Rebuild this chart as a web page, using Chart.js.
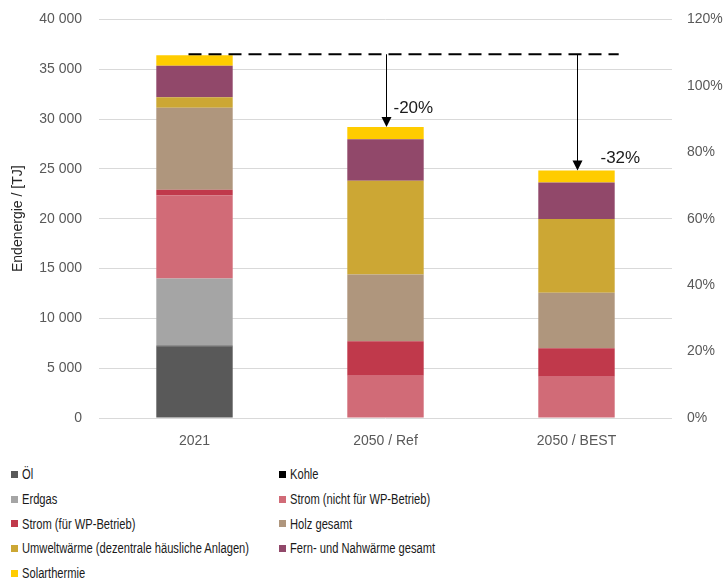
<!DOCTYPE html>
<html>
<head>
<meta charset="utf-8">
<script src="https://cdn.jsdelivr.net/npm/chart.js@4"></script>
<style>
  body { margin: 0; background: #fff; font-family: "Liberation Sans", Arial, sans-serif; overflow: hidden; }
  #wrap { position: relative; width: 728px; height: 583px; overflow: hidden; }
  #chartBox { position: absolute; left: 0; top: -6px; width: 728px; height: 456px; }
  #legend { position: absolute; left: 11px; top: 462px; display: grid;
            grid-template-columns: 268px 300px; row-gap: 0; }
  .item { display: flex; align-items: center; height: 24.7px; white-space: nowrap;
          font-size: 15.5px; color: #1a1a1a; }
  .box { width: 7px; height: 7px; margin-right: 4px; flex: none; }
  .txt { display: inline-block; transform: scaleX(0.72); transform-origin: left center; }
</style>
</head>
<body>
<div id="wrap">
  <div id="chartBox"><canvas id="chart"></canvas></div>
  <div id="legend"></div>
</div>
<script>
// categories
const categories = ['2021', '2050 / Ref', '2050 / BEST'];

// series (TJ), stacked bottom -> top
const oel        = [7200, 0, 0];
const kohle      = [60, 0, 0];
const erdgas     = [6750, 0, 0];
const stromNWP   = [8330, 4230, 4130];
const stromWP    = [560, 3480, 2860];
const holz       = [8230, 6700, 5570];
const umwelt     = [1060, 9390, 7420];
const fernwaerme = [3150, 4180, 3650];
const solar      = [1060, 1220, 1200];

const seriesNames = ['Öl', 'Kohle', 'Erdgas', 'Strom (nicht für WP-Betrieb)', 'Strom (für WP-Betrieb)',
  'Holz gesamt', 'Umweltwärme (dezentrale häusliche Anlagen)', 'Fern- und Nahwärme gesamt', 'Solarthermie'];
const seriesData = [oel, kohle, erdgas, stromNWP, stromWP, holz, umwelt, fernwaerme, solar];
const seriesColors = ['#595959', '#000000', '#a5a5a5', '#d16b77', '#c0394b',
  '#af967d', '#cca734', '#91486a', '#ffcc00'];

// tick labels
const leftTicks = [0, 5000, 10000, 15000, 20000, 25000, 30000, 35000, 40000];
const rightTicks = [0, 0.2, 0.4, 0.6, 0.8, 1.0, 1.2];

const datasets = seriesNames.map((name, i) => ({
  label: name,
  data: seriesData[i],
  backgroundColor: seriesColors[i],
  borderWidth: 0,
  categoryPercentage: 1,
  barPercentage: 0.4
}));

const totals = categories.map((c, j) => seriesData.reduce((s, arr) => s + arr[j], 0));

function fmt(v) {
  return String(v).replace(/\B(?=(\d{3})+(?!\d))/g, ' ');
}

// dashed reference line at 2021 total + arrows to scenario bars
const refPlugin = {
  id: 'refLine',
  afterDatasetsDraw(chart) {
    const ctx = chart.ctx;
    const x = chart.scales.x, y = chart.scales.y;
    const meta = chart.getDatasetMeta(seriesData.length - 1);
    const barW = meta.data[2].width;
    const yRef = y.getPixelForValue(totals[0]) - 1;
    ctx.save();
    ctx.strokeStyle = '#000';
    ctx.lineWidth = 1.8;
    ctx.setLineDash([13, 7]);
    ctx.beginPath();
    ctx.moveTo(x.getPixelForValue(0) - 6, yRef);
    ctx.lineTo(x.getPixelForValue(2) + barW / 2 + 4, yRef);
    ctx.stroke();
    ctx.setLineDash([]);
    const labelDy = [0, 19, 12];
    const labelDx = [0, 7, 23];
    for (let j = 1; j < categories.length; j++) {
      const xc = x.getPixelForValue(j) + 1;
      const yt = y.getPixelForValue(totals[j]);
      ctx.lineWidth = 1;
      ctx.beginPath();
      ctx.moveTo(xc, yRef);
      ctx.lineTo(xc, yt - 9);
      ctx.stroke();
      ctx.fillStyle = '#000';
      ctx.beginPath();
      ctx.moveTo(xc - 5, yt - 10);
      ctx.lineTo(xc + 5, yt - 10);
      ctx.lineTo(xc, yt);
      ctx.closePath();
      ctx.fill();
      const pct = Math.round((totals[j] / totals[0] - 1) * 100);
      ctx.font = '17px "Liberation Sans", Arial, sans-serif';
      ctx.fillStyle = '#1a1a1a';
      ctx.textBaseline = 'middle';
      ctx.textAlign = 'left';
      ctx.fillText(pct + '%', xc + labelDx[j], yt - labelDy[j]);
    }
    ctx.restore();
  }
};

new Chart(document.getElementById('chart'), {
  type: 'bar',
  data: { labels: categories, datasets: datasets },
  plugins: [refPlugin],
  options: {
    responsive: true,
    maintainAspectRatio: false,
    animation: false,
    layout: { padding: { top: 5, right: 0, left: 10, bottom: 0 } },
    plugins: { legend: { display: false }, tooltip: { enabled: false } },
    scales: {
      x: {
        stacked: true,
        grid: { display: false },
        border: { display: false },
        ticks: { color: '#595959', font: { size: 14, family: '"Liberation Sans", Arial' }, padding: 7 },
        afterFit(s) { s.height = 32; }
      },
      y: {
        stacked: true,
        position: 'left',
        min: 0, max: 40000,
        afterBuildTicks(s) { s.ticks = leftTicks.map(v => ({ value: v })); },
        ticks: { color: '#595959', font: { size: 14, family: '"Liberation Sans", Arial' }, padding: 17,
                 callback: v => fmt(v) },
        grid: { color: '#d9d9d9', drawTicks: false },
        border: { display: false },
        title: { display: true, text: 'Endenergie / [TJ]', color: '#262626',
                 font: { size: 14, family: '"Liberation Sans", Arial' }, padding: 0 },
        afterFit(s) { s.width = 89; }
      },
      y1: {
        display: true,
        position: 'right',
        min: 0, max: 1.2,
        afterBuildTicks(s) { s.ticks = rightTicks.map(v => ({ value: v })); },
        ticks: { color: '#595959', font: { size: 14, family: '"Liberation Sans", Arial' }, padding: 15,
                 callback: v => Math.round(v * 100) + '%' },
        grid: { display: false, drawTicks: false },
        border: { display: false },
        afterFit(s) { s.width = 56; }
      }
    }
  }
});

// legend in two columns
const legend = document.getElementById('legend');
seriesNames.forEach((name, i) => {
  const d = document.createElement('div');
  d.className = 'item';
  d.innerHTML = '<span class="box" style="background:' + seriesColors[i] + '"></span>' +
                '<span class="txt">' + name + '</span>';
  legend.appendChild(d);
});
</script>
</body>
</html>
